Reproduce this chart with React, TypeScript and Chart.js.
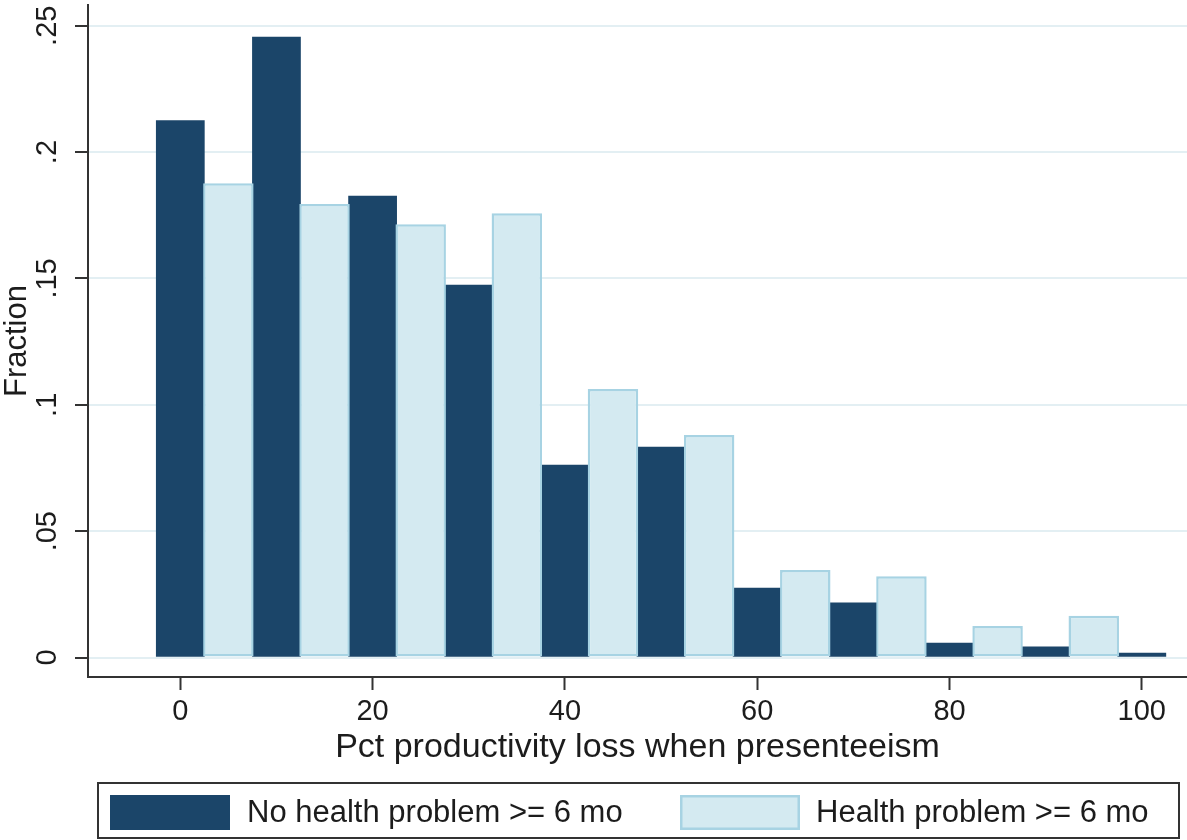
import React, { useEffect, useRef } from "react";
import { Chart, registerables } from "chart.js";

Chart.register(...registerables);

// ---- data ----
const seriesLabels = ["No health problem >= 6 mo", "Health problem >= 6 mo"];
const noProblemX = [0, 10, 20, 30, 40, 50, 60, 70, 80, 90, 100];
const noProblemFraction = [0.2125, 0.2455, 0.1826, 0.1474, 0.0762, 0.0833, 0.0275, 0.0216, 0.0057, 0.0042, 0.0018];
const problemX = [5, 15, 25, 35, 45, 55, 65, 75, 85, 95];
const problemFraction = [0.1877, 0.1795, 0.1714, 0.1758, 0.1063, 0.0881, 0.0346, 0.0322, 0.0125, 0.0165];
const xTickValues = [0, 20, 40, 60, 80, 100];
const yTickValues = [0, 0.05, 0.1, 0.15, 0.2, 0.25];
const yTickLabels = ["0", ".05", ".1", ".15", ".2", ".25"];
const xTitle = "Pct productivity loss when presenteeism";
const yTitle = "Fraction";

// ---- style ----
const FONT = "'Liberation Sans', Arial, Helvetica, sans-serif";
const TEXT = "#1c1c1c";
const AXIS = "#333333";
const DARK = "#1b4569";
const LIGHT = "#d4eaf1";
const LIGHT_EDGE = "#a7d3e3";
const GRID = "#e3eff3";

const boxLegend = {
  id: "boxLegend",
  afterDraw(chart: any) {
    const ctx = chart.ctx as CanvasRenderingContext2D;
    const ds = chart.data.datasets;
    ctx.save();
    ctx.lineWidth = 2;
    ctx.strokeStyle = AXIS;
    ctx.strokeRect(98, 783, 1081, 55);
    const items = [
      { x: 110, textX: 247, ds: ds[0] },
      { x: 680, textX: 816, ds: ds[1] },
    ];
    ctx.font = `31px ${FONT}`;
    ctx.textBaseline = "middle";
    ctx.textAlign = "left";
    for (const it of items) {
      const bw = (it.ds.borderWidth as number) || 0;
      ctx.fillStyle = it.ds.backgroundColor as string;
      ctx.fillRect(it.x, 795, 120, 35);
      if (bw > 0) {
        ctx.lineWidth = bw;
        ctx.strokeStyle = it.ds.borderColor as string;
        ctx.strokeRect(it.x + bw / 2, 795 + bw / 2, 120 - bw, 35 - bw);
      }
      ctx.fillStyle = TEXT;
      ctx.fillText(it.ds.label as string, it.textX, 813);
    }
    ctx.restore();
  },
};

export default function App() {
  const ref = useRef<HTMLCanvasElement>(null);

  useEffect(() => {
    if (!ref.current) return;
    const chart = new Chart(ref.current, {
      type: "bar",
      data: {
        datasets: [
          {
            label: seriesLabels[0],
            data: noProblemX.map((x, i) => ({ x, y: noProblemFraction[i] })),
            backgroundColor: DARK,
            borderWidth: 0,
            barPercentage: 1,
            categoryPercentage: 1,
            grouped: false,
            order: 2,
          } as any,
          {
            label: seriesLabels[1],
            data: problemX.map((x, i) => ({ x, y: problemFraction[i] })),
            backgroundColor: LIGHT,
            borderColor: LIGHT_EDGE,
            borderWidth: 2.5,
            borderSkipped: false,
            barPercentage: 1.05,
            categoryPercentage: 1,
            grouped: false,
            order: 1,
          } as any,
        ],
      },
      options: {
        animation: false,
        responsive: false,
        layout: { padding: { top: 5, left: 0, right: 0, bottom: 0 } },
        plugins: {
          legend: { display: false },
          tooltip: { enabled: false },
        },
        scales: {
          x: {
            type: "linear",
            offset: false,
            min: -9.6,
            max: 104.7,
            afterBuildTicks: (s: any) => {
              s.ticks = xTickValues.map((v) => ({ value: v }));
            },
            afterFit: (s: any) => {
              s.height = 163;
              s.paddingLeft = 0;
              s.paddingRight = 0;
            },
            grid: {
              offset: false,
              drawOnChartArea: false,
              drawTicks: true,
              tickLength: 13,
              tickColor: AXIS,
              tickWidth: 2,
            },
            border: { display: true, color: AXIS, width: 2 },
            ticks: {
              font: { size: 29, family: FONT },
              color: TEXT,
              padding: 5,
              autoSkip: false,
              maxRotation: 0,
              minRotation: 0,
              callback: (v: any) => String(v),
            },
            title: {
              display: true,
              text: xTitle,
              font: { size: 34, family: FONT },
              color: TEXT,
              padding: { top: 0, bottom: 72 },
            },
          },
          y: {
            type: "linear",
            min: -0.0077,
            max: 0.2582,
            afterBuildTicks: (s: any) => {
              s.ticks = yTickValues.map((v) => ({ value: v }));
            },
            afterFit: (s: any) => {
              s.width = 88;
              s.paddingTop = 0;
              s.paddingBottom = 0;
            },
            grid: {
              drawOnChartArea: true,
              color: GRID,
              lineWidth: 2,
              drawTicks: true,
              tickLength: 13,
              tickColor: AXIS,
              tickWidth: 2,
            },
            border: { display: true, color: AXIS, width: 2 },
            ticks: {
              font: { size: 29, family: FONT },
              color: TEXT,
              padding: 7,
              autoSkip: false,
              minRotation: 90,
              maxRotation: 90,
              crossAlign: "center",
              callback: (v: any) => {
                const i = yTickValues.findIndex((t) => Math.abs(t - v) < 1e-9);
                return i >= 0 ? yTickLabels[i] : "";
              },
            },
            title: {
              display: true,
              text: yTitle,
              font: { size: 31, family: FONT, lineHeight: 0.92 },
              color: TEXT,
              padding: { top: 3, bottom: 0 },
            },
          },
        },
      } as any,
      plugins: [boxLegend],
    });
    return () => chart.destroy();
  }, []);

  return (
    <div style={{ position: "fixed", left: 0, top: 0, width: 1187, height: 840, background: "#fff" }}>
      <canvas ref={ref} width={1187} height={840} style={{ display: "block" }} />
    </div>
  );
}
